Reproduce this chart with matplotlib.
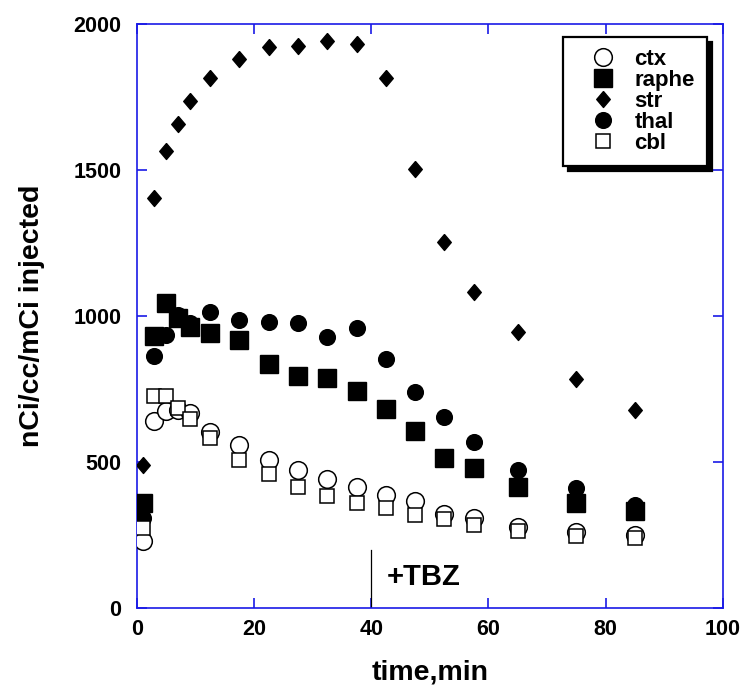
import matplotlib
matplotlib.use("Agg")
import matplotlib.pyplot as plt

plt.rcParams['font.family'] = ['Liberation Sans', 'DejaVu Sans']
plt.rcParams['font.weight'] = 'bold'

# sampling times (min)
time = [1, 3, 5, 7, 9, 12.5, 17.5, 22.5, 27.5, 32.5, 37.5, 42.5, 47.5, 52.5, 57.5, 65, 75, 85]

# nCi/cc/mCi injected
ctx = [231, 641, 676, 678, 667, 604, 558, 507, 473, 441, 415, 387, 368, 322, 307, 278, 259, 250]
raphe = [358, 931, 1043, 992, 963, 943, 918, 836, 796, 788, 742, 682, 607, 514, 481, 413, 358, 333]
stri = [489, 1403, 1565, 1659, 1737, 1815, 1881, 1920, 1926, 1943, 1933, 1814, 1503, 1253, 1082, 944, 783, 677]
thal = [307, 863, 935, 1005, 975, 1015, 986, 980, 975, 929, 958, 853, 741, 655, 570, 473, 410, 352]
cbl = [273, 726, 726, 686, 646, 581, 507, 458, 413, 384, 361, 341, 318, 304, 284, 265, 248, 239]

tbz_time = 40
tbz_top = 200

blue = '#1a1ae6'
diamond = [(0, 1), (0.85, 0), (0, -1), (-0.85, 0), (0, 1)]

fig = plt.figure(figsize=(7.52, 7.0), dpi=100)
ax = fig.add_axes([0.182, 0.1314, 0.779, 0.8343])

ax.plot(time, ctx, 'o', ms=12.7, mfc='white', mec='black', mew=1.1, ls='none', label='ctx', zorder=3)
ax.plot(time, raphe, 's', ms=13.5, mfc='black', mec='black', ls='none', label='raphe', zorder=3)
ax.plot(time, stri, marker=diamond, ms=11.5, mfc='black', mec='black', ls='none', label='str', zorder=3)
ax.plot(time, thal, 'o', ms=11.3, mfc='black', mec='black', ls='none', label='thal', zorder=3)
ax.plot(time, cbl, 's', ms=9.6, mfc='white', mec='black', mew=1.1, ls='none', label='cbl', zorder=4)

# TBZ marker
ax.plot([tbz_time, tbz_time], [0, tbz_top], color='black', lw=0.9)
ax.text(tbz_time + 2.7, 106, '+TBZ', fontsize=21, fontweight='bold', va='center', ha='left')

ax.set_xlim(0, 100)
ax.set_ylim(0, 2000)
ax.set_xticks([0, 20, 40, 60, 80, 100])
ax.set_yticks([0, 500, 1000, 1500, 2000])

for s in ax.spines.values():
    s.set_color(blue)
    s.set_linewidth(1.2)
ax.tick_params(direction='in', length=7, width=1.2, color=blue,
               top=True, right=True, labelsize=15.5)
ax.tick_params(axis='x', pad=8)
ax.tick_params(axis='y', pad=11)
for lab in ax.get_xticklabels() + ax.get_yticklabels():
    lab.set_fontweight('bold')

ax.set_xlabel('time,min', fontsize=20.5, fontweight='bold', va='center')
ax.xaxis.set_label_coords(0.5, -0.111)
ax.set_ylabel('nCi/cc/mCi injected', fontsize=20.5, fontweight='bold', va='center')
ax.yaxis.set_label_coords(-0.179, 0.5)

leg = ax.legend(loc='upper right', bbox_to_anchor=(0.973, 0.978), borderaxespad=0,
                prop={'size': 16, 'weight': 'bold'}, frameon=True, fancybox=False,
                edgecolor='black', framealpha=1, labelspacing=0.0,
                handlelength=2.5, handletextpad=0.15, borderpad=0.55,
                shadow={'ox': 3.6, 'oy': -3.6, 'color': 'black', 'alpha': 1})
leg.get_frame().set_linewidth(1.6)

fig.savefig('out.png', dpi=100)
